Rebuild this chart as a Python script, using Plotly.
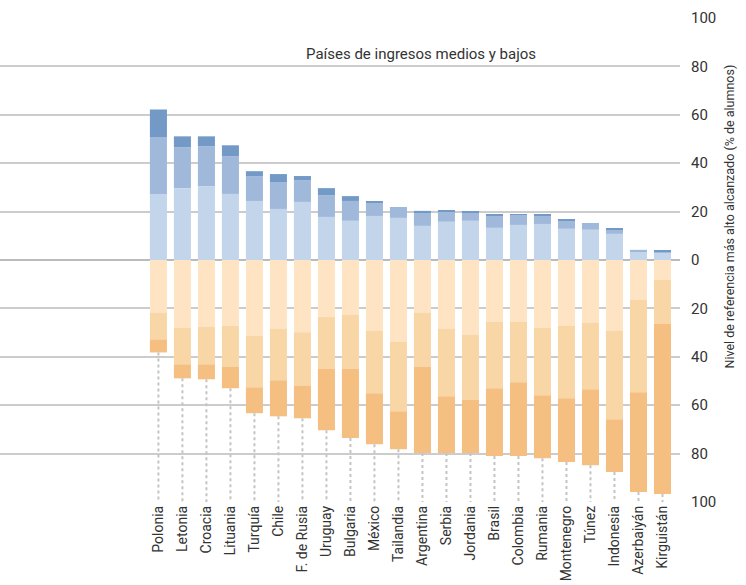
import plotly.graph_objects as go

paises = ["Polonia", "Letonia", "Croacia", "Lituania", "Turquía", "Chile",
          "F. de Rusia", "Uruguay", "Bulgaria", "México", "Tailandia",
          "Argentina", "Serbia", "Jordania", "Brasil", "Colombia", "Rumania",
          "Montenegro", "Túnez", "Indonesia", "Azerbaiyán", "Kirguistán"]

# Porcentaje de alumnos por encima del nivel de referencia (tres tramos)
sup_bajo = [27.3, 29.7, 30.5, 27.3, 24.4, 21.1, 24.0, 17.8, 16.2, 18.2, 17.4,
            14.1, 15.8, 16.2, 13.3, 14.5, 14.9, 12.9, 12.5, 10.8, 3.4, 3.2]
sup_medio = [23.4, 16.9, 16.5, 15.6, 10.3, 11.1, 9.0, 9.0, 8.2, 5.4, 4.5,
             5.4, 4.1, 3.3, 4.9, 4.1, 3.3, 3.3, 2.8, 1.7, 0.8, 0.4]
sup_alto = [11.5, 4.5, 4.1, 4.5, 2.0, 3.3, 1.7, 2.9, 2.0, 0.4, 0.0,
            0.8, 0.4, 0.4, 0.8, 0.4, 0.4, 0.4, 0.0, 0.4, 0.0, 0.2]

# Porcentaje de alumnos por debajo (tres tramos, se dibujan hacia abajo)
inf_1 = [21.7, 27.9, 27.5, 27.1, 31.2, 28.3, 29.9, 23.4, 22.5, 29.1, 33.7,
         21.7, 28.3, 30.8, 25.4, 25.4, 27.9, 27.1, 25.8, 29.1, 16.3, 8.1]
inf_2 = [11.1, 15.2, 15.6, 16.9, 21.4, 21.4, 21.9, 21.4, 22.3, 26.0, 28.8,
         22.3, 28.0, 26.8, 27.6, 25.1, 28.0, 30.0, 27.6, 36.7, 38.4, 18.1]
inf_3 = [5.4, 5.8, 6.2, 9.0, 10.7, 14.9, 13.6, 25.5, 28.8, 21.0, 15.7,
         35.8, 23.5, 22.2, 28.0, 30.5, 26.0, 26.4, 31.4, 21.8, 41.2, 70.5]

valores_eje = [-100, -80, -60, -40, -20, 0, 20, 40, 60, 80, 100]

azules = ["#c3d5ea", "#a0b8da", "#7399c6"]
naranjas = ["#fee4c2", "#f9d6a6", "#f4bf81"]

fig = go.Figure()

# Líneas punteadas desde el fondo de cada barra hasta el eje
xs, ys = [], []
for i, p in enumerate(paises):
    fondo = -(inf_1[i] + inf_2[i] + inf_3[i])
    xs += [p, p, None]
    ys += [fondo, -100, None]
fig.add_trace(go.Scatter(x=xs, y=ys, mode="lines", hoverinfo="skip",
                         line=dict(color="#c4c4c4", width=2, dash="dot"),
                         showlegend=False))

for serie, color in zip([sup_bajo, sup_medio, sup_alto], azules):
    fig.add_trace(go.Bar(x=paises, y=serie, marker=dict(color=color, line=dict(width=0)),
                         showlegend=False))
for serie, color in zip([inf_1, inf_2, inf_3], naranjas):
    fig.add_trace(go.Bar(x=paises, y=[-v for v in serie],
                         marker=dict(color=color, line=dict(width=0)),
                         showlegend=False))

fuente = "Roboto, Arial, sans-serif"

ancho_plot = 746 - 66
alto_plot = 585 - 18 - 83

fig.update_layout(
    width=746, height=585,
    margin=dict(l=0, r=66, t=18, b=83),
    barmode="relative", bargap=0.29,
    paper_bgcolor="white", plot_bgcolor="white",
    font=dict(family=fuente, size=14, color="#333333"),
    xaxis=dict(range=[-6.6, 21.73], tickangle=-90, showgrid=False,
               showline=False, ticks="", tickfont=dict(size=14)),
    yaxis=dict(range=[-100, 100], side="right", tickvals=valores_eje,
               ticktext=[str(abs(v)) for v in valores_eje],
               showgrid=True, gridcolor="#cccccc", gridwidth=1.5,
               zeroline=True, zerolinecolor="#bbbbbb", zerolinewidth=1.5,
               ticks="", ticklabelstandoff=10, tickfont=dict(size=15)),
    annotations=[
        dict(text="Países de ingresos medios y bajos",
             x=421 / ancho_plot, y=(585 - 83 - 43) / alto_plot,
             xref="paper", yref="paper", showarrow=False,
             font=dict(size=15, color="#333333")),
        dict(text="Nivel de referencia más alto alcanzado (% de alumnos)",
             x=738 / ancho_plot, y=(585 - 83 - 217) / alto_plot,
             xref="paper", yref="paper", showarrow=False, textangle=-90,
             font=dict(size=12.5, color="#333333")),
    ],
)

fig.write_html("out.html")
